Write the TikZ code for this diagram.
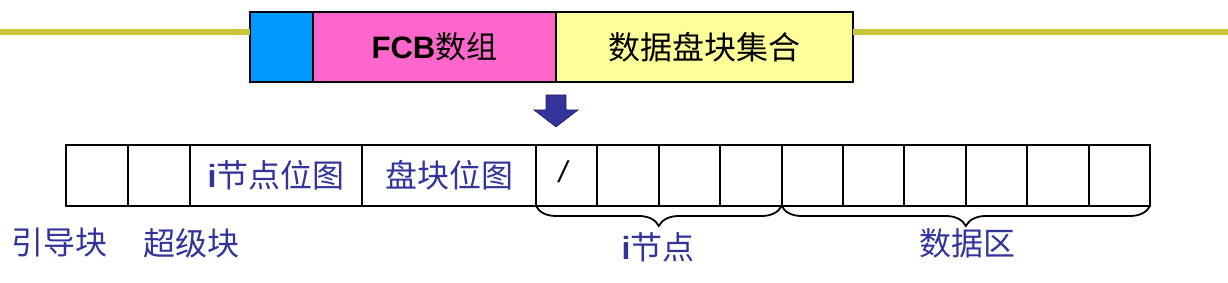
\documentclass[tikz,border=0pt]{standalone}
\usepackage{fontspec}
\setmainfont{Liberation Sans}
\newfontfamily\cjk{Noto Sans CJK SC}
\usetikzlibrary{decorations.pathreplacing}
\definecolor{olive}{HTML}{C8C43C}
\definecolor{fblue}{HTML}{0099FF}
\definecolor{fpink}{HTML}{FF66CC}
\definecolor{fyellow}{HTML}{FFFF99}
\definecolor{tblue}{HTML}{333399}
\tikzset{
  seg/.style={draw=black, line width=1.2pt, inner sep=0pt, outer sep=0pt, minimum height=70pt},
  cell/.style={draw=black, line width=2pt, inner sep=0pt, outer sep=0pt, minimum height=61pt},
  celltext/.style={text=tblue, font=\cjk\fontsize{32}{34}\selectfont},
  lbl/.style={text=tblue, font=\cjk\fontsize{32}{34}\selectfont, inner sep=0pt},
  brc/.style={decorate, decoration={brace, mirror, amplitude=20pt}, line width=1.8pt},
  bar/.style={line width=6pt, draw=olive}
}
\begin{document}
\begin{tikzpicture}[x=1pt,y=-1pt]
\useasboundingbox (0,0) rectangle (1228,283);
% top bar
\coordinate (L0) at (0,32);
\coordinate (R0) at (1228,32);
\node[seg, fill=fblue, minimum width=63pt] (b1) at (281.5,47) {};
\node[seg, fill=fpink, minimum width=243pt] (b2) at (434.5,47) {};
\node[seg, fill=fyellow, minimum width=297pt] (b3) at (704.5,47) {};
\node[font=\fontsize{31}{33}\selectfont] (t2) at (b2) {\textbf{FCB}{\cjk 数组}};
\node[font=\cjk\fontsize{32}{34}\selectfont] (t3) at (b3) {数据盘块集合};
\draw[bar] (L0) -- (b1.west |- L0);
\draw[bar] (b3.east |- R0) -- (R0);
% arrow
\fill[tblue, draw=tblue!70!black, line width=0.6pt]
  (546,95) -- (566,95) -- (566,110) -- (578,110) -- (556,127) -- (534,110) -- (546,110) -- cycle;
% bottom row
\node[cell, minimum width=62pt] (c1) at (97,175.5) {};
\node[cell, minimum width=62pt] (c2) at (159,175.5) {};
\node[cell, minimum width=172pt] (c3) at (276,175.5) {};
\node[cell, minimum width=174pt] (c4) at (449,175.5) {};
\foreach \i in {0,...,9} {
  \pgfmathsetmacro{\cx}{536+61.4*\i+30.7}
  \pgfmathtruncatemacro{\k}{\i+5}
  \node[cell, minimum width=61.4pt] (c\k) at (\cx,175.5) {};
}
\node[celltext] at (c3) {{\bfseries\rmfamily i}节点位图};
\node[celltext] at (c4) {盘块位图};
\node[font=\itshape\fontsize{30}{32}\selectfont] (sl) at (563,172) {/};
% braces
\draw[brc] (c5.south west) -- (c8.south east);
\draw[brc] (c9.south west) -- (c14.south east);
% labels
\node[lbl] (l1) at (60,243) {引导块};
\node[lbl] (l2) at (191,243) {超级块};
\node[lbl] (l3) at (658,247) {{\bfseries\rmfamily i}节点};
\node[lbl] (l4) at (967,243) {数据区};
\end{tikzpicture}
\end{document}
